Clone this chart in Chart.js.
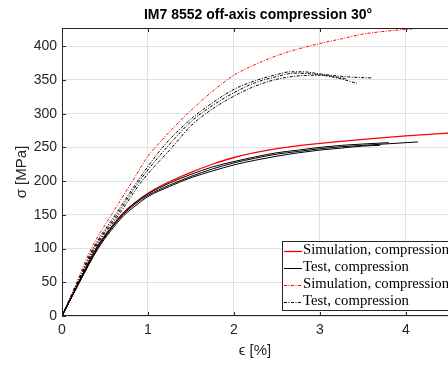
<!DOCTYPE html>
<html>
<head>
<meta charset="utf-8">
<script src="https://cdn.jsdelivr.net/npm/chart.js@4"></script>
<style>
html,body{margin:0;padding:0;background:#fff;}
#wrap{position:relative;width:448px;height:365px;overflow:hidden;}
</style>
</head>
<body>
<div id="wrap"><canvas id="c" width="460" height="365"></canvas></div>
<script>
// ---- data (strain in %, stress in MPa) ----
const simSolidStrain = [0,0.2,0.4,0.55,0.7,0.85,1.0,1.25,1.5,1.75,2.0,2.5,3.0,3.5,4.0,4.6];
const simSolidStress = [0,51,100,127,151,168,182,199,213,225,235,248,256,262,267,272];

const testSolid1Strain = [0,0.2,0.41,0.55,0.71,0.85,1.0,1.25,1.5,1.75,2.0,2.25,2.5,2.75,3.0,3.25,3.5,3.75,4.0,4.14];
const testSolid1Stress = [0,50,100,126,150,166,179,194,207,218,227,234,240,244,248,251,253,255,257,258];
const testSolid2Strain = [0,0.2,0.4,0.55,0.7,0.85,1.0,1.25,1.5,1.75,2.0,2.25,2.5,2.75,3.0,3.25,3.5,3.8];
const testSolid2Stress = [0,51,101,128,151,168,181,197,210,221,229,236,242,246,250,253,255,257];
const testSolid3Strain = [0,0.2,0.42,0.56,0.72,0.86,1.0,1.25,1.5,1.75,2.0,2.25,2.5,2.75,3.0,3.25,3.5,3.7];
const testSolid3Stress = [0,49,100,125,149,164,177,192,205,215,224,231,237,242,246,249,252,253];

const simDashStrain = [0,0.17,0.34,0.575,0.82,1.0,1.1,1.25,1.46,1.75,2.0,2.25,2.5,2.75,3.0,3.25,3.5,3.75,4.0,4.1];
const simDashStress = [0,50,100,150,200,237,252,273,300,333,357,373,386,396,404,411,418,422,425,426];

const testDash1Strain = [0,0.18,0.36,0.62,0.88,1.17,1.5,1.75,2.0,2.25,2.5,2.65,2.8,3.0,3.2,3.4,3.6];
const testDash1Stress = [0,50,100,150,200,250,292,316,336,349,358,362,362,359,356,354,353];
const testDash2Strain = [0,0.19,0.38,0.66,0.93,1.28,1.5,1.75,2.0,2.25,2.5,2.75,3.0,3.2,3.43];
const testDash2Stress = [0,50,100,150,200,250,282,307,326,341,351,356,357,353,345];
const testDash3Strain = [0,0.185,0.37,0.64,0.9,1.22,1.5,1.75,2.0,2.25,2.5,2.7,2.9,3.1,3.3];
const testDash3Stress = [0,50,100,150,200,250,288,312,331,346,355,360,359,356,352];

const xTicks = [0,1,2,3,4];
const yTicks = [0,50,100,150,200,250,300,350,400];
const legendLabels = ['Simulation, compression','Test, compression','Simulation, compression','Test, compression'];

const titleText = 'IM7 8552 off-axis compression 30°';
const xTitle = 'ϵ [%]';
const yTitle = 'σ [MPa]';

function pts(xs, ys){ return xs.map((x,i)=>({x:x,y:ys[i]})); }
const DASHDOT = [3,1.5,1,1.5];

function ds(xs, ys, color, width, dash){
  return {data: pts(xs,ys), borderColor: color, borderWidth: width, borderDash: dash,
    pointRadius: 0, fill:false, showLine:true, cubicInterpolationMode:'monotone'};
}

const datasets = [
  ds(testSolid1Strain, testSolid1Stress, '#000', 1, []),
  ds(testSolid2Strain, testSolid2Stress, '#000', 1, []),
  ds(testSolid3Strain, testSolid3Stress, '#000', 1, []),
  ds(testDash1Strain, testDash1Stress, '#000', 1, DASHDOT),
  ds(testDash2Strain, testDash2Stress, '#000', 1, DASHDOT),
  ds(testDash3Strain, testDash3Stress, '#000', 1, DASHDOT),
  ds(simSolidStrain, simSolidStress, '#ff0000', 1.3, []),
  ds(simDashStrain, simDashStress, '#ff0000', 1, DASHDOT),
];

const AXC = '#262626';
const TICKFONT = {family:"'Liberation Sans', Arial, sans-serif", size:14};

const decor = {
  id:'decor',
  afterDatasetsDraw(chart){
    const ctx = chart.ctx, a = chart.chartArea;
    const xs = chart.scales.x, ys = chart.scales.y;
    ctx.save();
    // frame
    ctx.strokeStyle = AXC; ctx.lineWidth = 1;
    ctx.beginPath();
    ctx.moveTo(a.left+0.5, a.bottom); ctx.lineTo(a.left+0.5, a.top+0.5); ctx.lineTo(a.right, a.top+0.5);
    ctx.moveTo(a.left, a.bottom-0.5); ctx.lineTo(a.right, a.bottom-0.5);
    ctx.stroke();
    // inner ticks
    ctx.beginPath();
    xTicks.forEach(v=>{
      const p = Math.round(xs.getPixelForValue(v))+0.5;
      ctx.moveTo(p, a.bottom); ctx.lineTo(p, a.bottom-4);
      ctx.moveTo(p, a.top); ctx.lineTo(p, a.top+4);
    });
    yTicks.forEach(v=>{
      const p = Math.round(ys.getPixelForValue(v))+0.5;
      ctx.moveTo(a.left, p); ctx.lineTo(a.left+4, p);
    });
    ctx.stroke();
    // legend
    const lx = 282, ly = 241, lw = 175, lh = 69;
    ctx.fillStyle = '#fff';
    ctx.fillRect(lx, ly, lw, lh);
    ctx.strokeStyle = AXC; ctx.lineWidth = 1;
    ctx.strokeRect(lx+0.5, ly+0.5, lw, lh);
    const styles = [['#ff0000',[] ,1.3],['#000',[],1],['#ff0000',DASHDOT,1],['#000',DASHDOT,1]];
    ctx.font = "14.7px 'Liberation Serif', 'Times New Roman', serif";
    ctx.textBaseline = 'middle'; ctx.textAlign = 'left';
    legendLabels.forEach((t,i)=>{
      const y = ly + 9.5 + i*17;
      ctx.strokeStyle = styles[i][0]; ctx.setLineDash(styles[i][1]); ctx.lineWidth = styles[i][2];
      ctx.beginPath(); ctx.moveTo(lx+2, Math.round(y)+0.5); ctx.lineTo(lx+20, Math.round(y)+0.5); ctx.stroke();
      ctx.setLineDash([]);
      ctx.fillStyle = '#000';
      ctx.fillText(t, lx+21, y);
    });
    // titles
    ctx.fillStyle = '#000';
    ctx.font = "bold 14px 'Liberation Sans', Arial, sans-serif";
    ctx.textAlign = 'center'; ctx.textBaseline = 'middle';
    ctx.fillText(titleText, (a.left+a.right)/2, 15.5);
    ctx.fillStyle = AXC;
    ctx.font = "15px 'Liberation Sans', Arial, sans-serif";
    ctx.fillText(xTitle, (a.left+a.right)/2 - 3, 351);
    ctx.translate(22, (a.top+a.bottom)/2);
    ctx.rotate(-Math.PI/2);
    ctx.fillText(yTitle, 0, 0);
    ctx.restore();
  }
};

new Chart(document.getElementById('c'), {
  type:'scatter',
  data:{datasets},
  options:{
    responsive:false, animation:false,
    layout:{padding:{top:28, right:6, left:0, bottom:0}},
    plugins:{legend:{display:false}, title:{display:false}, tooltip:{enabled:false}},
    scales:{
      x:{type:'linear', min:0, max:4.56,
        afterBuildTicks(s){ s.ticks = xTicks.map(v=>({value:v})); },
        afterFit(s){ s.height = 49; },
        ticks:{font:TICKFONT, color:AXC, padding:6, callback:(v)=>String(v)},
        grid:{color:'#e2e2e2', drawTicks:false, lineWidth:1},
        border:{display:false}
      },
      y:{type:'linear', min:0, max:427,
        afterBuildTicks(s){ s.ticks = yTicks.map(v=>({value:v})); },
        afterFit(s){ s.width = 62; },
        ticks:{font:TICKFONT, color:AXC, padding:5, callback:(v)=>String(v)},
        grid:{color:'#e2e2e2', drawTicks:false, lineWidth:1},
        border:{display:false}
      }
    }
  },
  plugins:[decor]
});
</script>
</body>
</html>
